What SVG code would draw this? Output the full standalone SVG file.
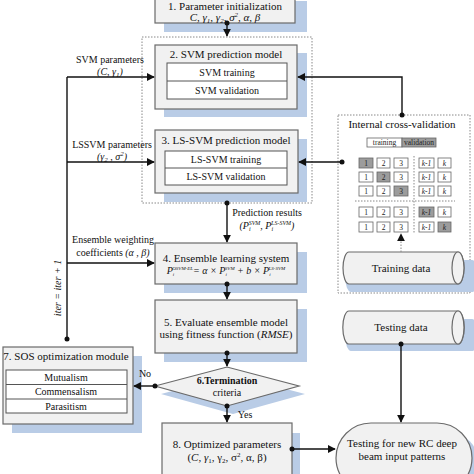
<svg xmlns="http://www.w3.org/2000/svg" width="474" height="474" viewBox="0 0 474 474">
<defs>
<marker id="ah" viewBox="0 0 10 10" refX="9" refY="5" markerWidth="8" markerHeight="8" markerUnits="userSpaceOnUse" orient="auto"><path d="M0,0 L10,5 L0,10 z" fill="#111"/></marker>
<style>
.bx{fill:#f1f1f1;stroke:#6a6a6a;stroke-width:1.2}
.sh{fill:#b9cce6;stroke:none}
.in{fill:#fff;stroke:#555;stroke-width:1}
.ln{fill:none;stroke:#111;stroke-width:1.4}
.dl{fill:none;stroke:#888;stroke-width:1;stroke-dasharray:1.5,1.5}
.t{font-family:"Liberation Serif",serif;font-size:11px;fill:#111;text-anchor:middle}
.s{font-family:"Liberation Serif",serif;font-size:10px;fill:#111;text-anchor:middle}
.c{font-family:"Liberation Serif",serif;font-size:7.5px;fill:#222;text-anchor:middle}
.cw{fill:#fff;stroke:#666;stroke-width:0.8}
.cg{fill:#9c9c9c;stroke:#666;stroke-width:0.8}
.dot{fill:#111}
</style>
</defs>
<rect width="474" height="474" fill="#fff"/>

<g id="frame-models"><rect x="142" y="37" width="170" height="166" class="dl"/></g>
<g id="frame-cv"><rect x="338" y="115" width="132" height="178" class="dl"/></g>

<g id="n1">
<rect x="164" y="1" width="143" height="31" class="sh"/>
<rect x="155" y="-8" width="140" height="31" class="bx"/>
<text x="225" y="10" class="t" font-size="10.5">1. Parameter initialization</text>
<text x="225" y="20.5" class="t" font-style="italic">C, γ<tspan font-size="7" dy="2">1</tspan><tspan dy="-2">, γ</tspan><tspan font-size="7" dy="2">2</tspan><tspan dy="-2">, σ</tspan><tspan font-size="7" dy="-4">2</tspan><tspan dy="4">, α, β</tspan></text>
</g>

<g id="n2">
<rect x="164" y="53" width="143" height="64" class="sh"/>
<rect x="155" y="45" width="142" height="64" class="bx"/>
<text x="226" y="58" class="t">2. SVM prediction model</text>
<rect x="167" y="63" width="120" height="36" class="in"/>
<line x1="167" y1="81" x2="287" y2="81" stroke="#555"/>
<text x="227" y="75.5" class="s">SVM training</text>
<text x="227" y="93.5" class="s">SVM validation</text>
</g>

<g id="n3">
<rect x="164" y="139" width="143" height="63" class="sh"/>
<rect x="155" y="130" width="143" height="63" class="bx"/>
<text x="226" y="144" class="t">3. LS-SVM prediction model</text>
<rect x="165" y="151" width="122" height="34" class="in"/>
<line x1="165" y1="168" x2="287" y2="168" stroke="#555"/>
<text x="226" y="163" class="s">LS-SVM training</text>
<text x="226" y="180" class="s">LS-SVM validation</text>
</g>

<g id="n4">
<rect x="164" y="252" width="143" height="41" class="sh"/>
<rect x="155" y="243" width="142" height="41" class="bx"/>
<text x="226" y="262" class="t">4. Ensemble learning system</text>
<text x="226" y="274" class="s" font-style="italic">P<tspan font-size="5" dy="2">i</tspan><tspan font-size="5" dx="-2" dy="-6">OSVM-EL</tspan><tspan dy="4">= α × P</tspan><tspan font-size="5" dy="2">i</tspan><tspan font-size="5" dx="-2" dy="-6">SVM</tspan><tspan dy="4"> + b × P</tspan><tspan font-size="5" dy="2">i</tspan><tspan font-size="5" dx="-2" dy="-6">LS-SVM</tspan></text>
</g>

<g id="n5">
<rect x="164" y="309" width="143" height="53" class="sh"/>
<rect x="155" y="300" width="142" height="53" class="bx"/>
<text x="226" y="326" class="t">5. Evaluate ensemble model</text>
<text x="226" y="338" class="t">using fitness function (<tspan font-style="italic">RMSE</tspan>)</text>
</g>

<g id="n6">
<polygon points="161,394 233,375 305,394 233,414" class="sh"/>
<polygon points="155,386 227,367 299,386 227,406" class="bx"/>
<text x="227" y="384" class="s" font-weight="bold">6.Termination</text>
<text x="227" y="396" class="s">criteria</text>
</g>

<g id="n7">
<rect x="12" y="356" width="130" height="77" class="sh"/>
<rect x="3" y="347" width="130" height="77" class="bx"/>
<text x="66" y="360" class="t">7. SOS optimization module</text>
<rect x="6" y="370" width="121" height="43" class="in"/>
<line x1="6" y1="384.5" x2="127" y2="384.5" stroke="#555"/>
<line x1="6" y1="399" x2="127" y2="399" stroke="#555"/>
<text x="66" y="381" class="s">Mutualism</text>
<text x="66" y="395" class="s">Commensalism</text>
<text x="66" y="410" class="s">Parasitism</text>
</g>

<g id="n8">
<rect x="170" y="433" width="130" height="50" class="sh"/>
<rect x="162" y="423" width="130" height="60" class="bx"/>
<text x="227" y="448" class="t">8. Optimized parameters</text>
<text x="227" y="461" class="t">(<tspan font-style="italic">C, γ</tspan><tspan font-size="7" dy="2">1</tspan><tspan dy="-2">, γ</tspan><tspan font-size="7" dy="2">2</tspan><tspan dy="-2">, σ</tspan><tspan font-size="7" dy="-4">2</tspan><tspan dy="4">, α, β</tspan>)</text>
</g>

<g id="cv">
<text x="402" y="128" class="t">Internal cross-validation</text>
<rect x="367" y="138" width="35" height="9" class="cw"/>
<rect x="402" y="138" width="34" height="9" class="cg"/>
<text x="384.5" y="145" class="c">training</text>
<text x="419" y="145" class="c">validation</text>
<g id="grid">
<rect x="359" y="158" width="14" height="10" class="cg"/><rect x="377" y="158" width="13" height="10" class="cw"/><rect x="394" y="158" width="14" height="10" class="cw"/><rect x="419" y="158" width="15" height="10" class="cw"/><rect x="438" y="158" width="13" height="10" class="cw"/>
<rect x="359" y="172" width="14" height="10" class="cw"/><rect x="377" y="172" width="13" height="10" class="cg"/><rect x="394" y="172" width="14" height="10" class="cw"/><rect x="419" y="172" width="15" height="10" class="cw"/><rect x="438" y="172" width="13" height="10" class="cw"/>
<rect x="359" y="186" width="14" height="10" class="cw"/><rect x="377" y="186" width="13" height="10" class="cw"/><rect x="394" y="186" width="14" height="10" class="cg"/><rect x="419" y="186" width="15" height="10" class="cw"/><rect x="438" y="186" width="13" height="10" class="cw"/>
<rect x="359" y="207" width="14" height="10" class="cw"/><rect x="377" y="207" width="13" height="10" class="cw"/><rect x="394" y="207" width="14" height="10" class="cw"/><rect x="419" y="207" width="15" height="10" class="cg"/><rect x="438" y="207" width="13" height="10" class="cw"/>
<rect x="359" y="222" width="14" height="10" class="cw"/><rect x="377" y="222" width="13" height="10" class="cw"/><rect x="394" y="222" width="14" height="10" class="cw"/><rect x="419" y="222" width="15" height="10" class="cw"/><rect x="438" y="222" width="13" height="10" class="cg"/>
<line x1="414" y1="156" x2="414" y2="234" class="dl" stroke="#666"/>
<line x1="355" y1="201" x2="455" y2="201" class="dl" stroke="#666"/>
<g class="c">
<text x="366" y="166">1</text><text x="383.5" y="166">2</text><text x="401" y="166">3</text>
<text x="366" y="180">1</text><text x="383.5" y="180">2</text><text x="401" y="180">3</text>
<text x="366" y="194">1</text><text x="383.5" y="194">2</text><text x="401" y="194">3</text>
<text x="366" y="215">1</text><text x="383.5" y="215">2</text><text x="401" y="215">3</text>
<text x="366" y="230">1</text><text x="383.5" y="230">2</text><text x="401" y="230">3</text>
</g>
<g class="c" font-style="italic">
<text x="426.5" y="166">k-1</text><text x="444.5" y="166">k</text>
<text x="426.5" y="180">k-1</text><text x="444.5" y="180">k</text>
<text x="426.5" y="194">k-1</text><text x="444.5" y="194">k</text>
<text x="426.5" y="215">k-1</text><text x="444.5" y="215">k</text>
<text x="426.5" y="230">k-1</text><text x="444.5" y="230">k</text>
</g>
</g>
</g>

<g id="training-data">
<path d="M351,260 L472,260 A6,16 0 0 1 472,292 L351,292 A6,16 0 0 1 351,260 z" class="sh"/>
<path d="M349,252 L458,252 A6,16 0 0 1 458,284 L349,284 A6,16 0 0 1 349,252 z" class="bx"/>
<ellipse cx="458" cy="268" rx="6" ry="16" class="bx"/>
<text x="401" y="272" class="t">Training data</text>
</g>

<g id="testing-data">
<path d="M351,319 L472,319 A6,16 0 0 1 472,351 L351,351 A6,16 0 0 1 351,319 z" class="sh"/>
<path d="M349,311 L458,311 A6,16 0 0 1 458,344 L349,344 A6,16 0 0 1 349,311 z" class="bx"/>
<ellipse cx="458" cy="327.5" rx="6" ry="16.5" class="bx"/>
<text x="401" y="331" class="t">Testing data</text>
</g>

<g id="testing-new">
<rect x="344" y="431" width="136" height="70" rx="35" class="sh"/>
<rect x="336" y="423" width="136" height="70" rx="35" class="bx"/>
<text x="402" y="447" class="t">Testing for new RC deep</text>
<text x="402" y="460" class="t">beam input patterns</text>
</g>

<g id="connectors">
<line x1="227" y1="23" x2="227" y2="36" class="ln" marker-end="url(#ah)"/>
<circle cx="227" cy="23" r="2.5" class="dot"/>
<polyline points="402,115 402,77 298,77" class="ln" marker-end="url(#ah)"/>
<circle cx="402" cy="115" r="2.5" class="dot"/>
<line x1="342" y1="162" x2="299" y2="162" class="ln" marker-end="url(#ah)"/>
<circle cx="342" cy="162" r="2.5" class="dot"/>
<line x1="227" y1="203" x2="227" y2="242" class="ln" marker-end="url(#ah)"/>
<circle cx="227" cy="203" r="2.5" class="dot"/>
<line x1="227" y1="284" x2="227" y2="299" class="ln" marker-end="url(#ah)"/>
<circle cx="227" cy="284" r="2.5" class="dot"/>
<line x1="227" y1="353" x2="227" y2="366" class="ln" marker-end="url(#ah)"/>
<circle cx="227" cy="353" r="2.5" class="dot"/>
<line x1="155" y1="386" x2="134" y2="386" class="ln" marker-end="url(#ah)"/>
<circle cx="155" cy="386" r="2.5" class="dot"/>
<line x1="227" y1="406" x2="227" y2="422" class="ln" marker-end="url(#ah)"/>
<circle cx="227" cy="406" r="2.5" class="dot"/>
<line x1="292" y1="449" x2="335" y2="449" class="ln" marker-end="url(#ah)"/>
<circle cx="292" cy="449" r="2.5" class="dot"/>
<line x1="401" y1="344" x2="401" y2="422" class="ln" marker-end="url(#ah)"/>
<circle cx="401" cy="344" r="2.5" class="dot"/>
<line x1="401" y1="252" x2="401" y2="234" class="dl" stroke="#444" marker-end="url(#ah)"/>
<polyline points="67,339 67,77" class="ln"/>
<circle cx="67" cy="339" r="2.5" class="dot"/>
<line x1="67" y1="77" x2="154" y2="77" class="ln" marker-end="url(#ah)"/>
<line x1="67" y1="162" x2="154" y2="162" class="ln" marker-end="url(#ah)"/>
<line x1="67" y1="263" x2="154" y2="263" class="ln" marker-end="url(#ah)"/>
</g>

<g id="labels">
<text x="110" y="63" class="s">SVM parameters</text>
<text x="110" y="75" class="s" font-style="italic">(C, γ<tspan font-size="7" dy="2">1</tspan><tspan dy="-2">)</tspan></text>
<text x="112" y="148" class="s">LSSVM parameters</text>
<text x="112" y="160" class="s" font-style="italic">(γ<tspan font-size="7" dy="2">2</tspan><tspan dy="-2"> , σ</tspan><tspan font-size="7" dy="-4">2</tspan><tspan dy="4">)</tspan></text>
<text x="113" y="243" class="s">Ensemble weighting</text>
<text x="113" y="256" class="s">coefficients <tspan font-style="italic">(α , β)</tspan></text>
<text x="267" y="216" class="s">Prediction results</text>
<text x="267" y="229" class="s" font-style="italic">(P<tspan font-size="6" dy="2">i</tspan><tspan font-size="6" dx="-2" dy="-6">SVM</tspan><tspan dy="4">, P</tspan><tspan font-size="6" dy="2">i</tspan><tspan font-size="6" dx="-2" dy="-6">LS-SVM</tspan><tspan dy="4">)</tspan></text>
<text x="0" y="0" class="s" font-style="italic" transform="translate(61,288) rotate(-90)">iter = iter + 1</text>
<text x="145" y="377" class="s">No</text>
<text x="245" y="418" class="s">Yes</text>
</g>
</svg>
